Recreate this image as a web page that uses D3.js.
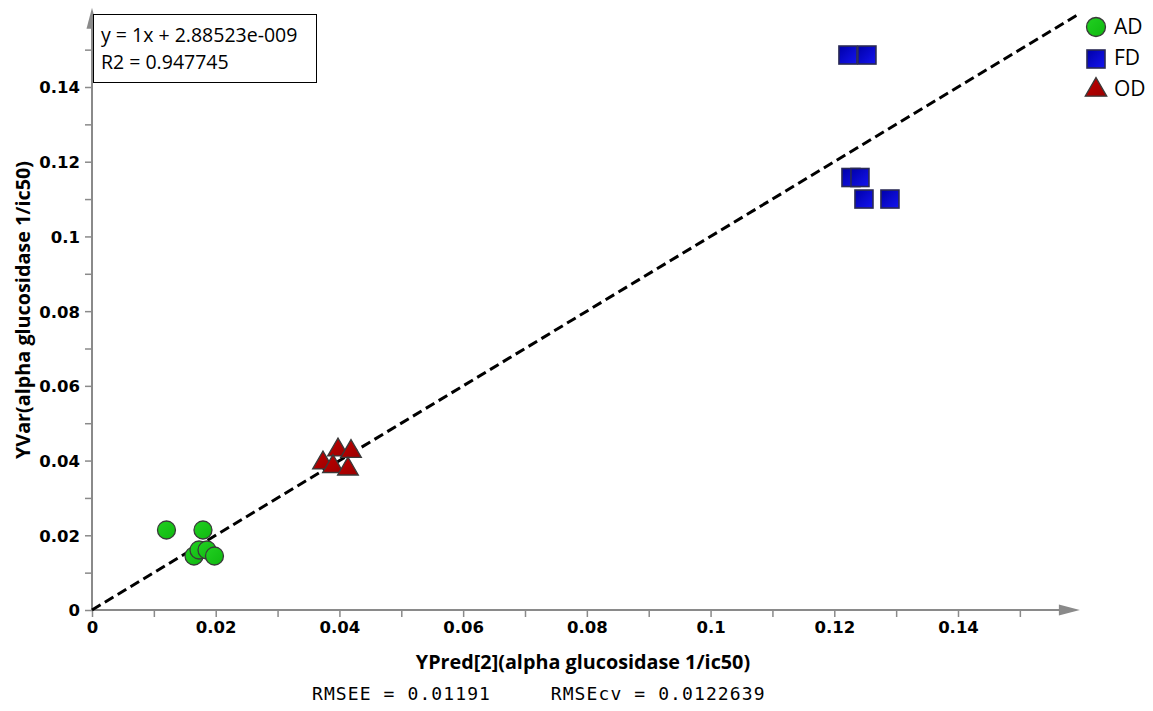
<!DOCTYPE html>
<html>
<head>
<meta charset="utf-8">
<script src="https://cdn.jsdelivr.net/npm/d3@7"></script>
<style>
  html, body { margin: 0; padding: 0; background: #fff; }
  svg { display: block; }
</style>
</head>
<body>
<svg id="chart" width="1153" height="711"></svg>
<script>
// ---- data ----
const seriesNames = ["AD", "FD", "OD"];
const adX = [0.01204, 0.01794, 0.01649, 0.01730, 0.01859, 0.01980];
const adY = [0.02141, 0.02141, 0.01445, 0.01606, 0.01606, 0.01445];
const fdX = [0.12221, 0.12528, 0.12270, 0.12415, 0.12480, 0.12900];
const fdY = [0.14856, 0.14856, 0.11577, 0.11577, 0.11001, 0.11001];
const odX = [0.03977, 0.04187, 0.03734, 0.03896, 0.04138];
const odY = [0.04323, 0.04283, 0.03975, 0.03881, 0.03814];
const xTicks = [0, 0.01, 0.02, 0.03, 0.04, 0.05, 0.06, 0.07, 0.08, 0.09, 0.10, 0.11, 0.12, 0.13, 0.14, 0.15];
const yTicks = [0, 0.01, 0.02, 0.03, 0.04, 0.05, 0.06, 0.07, 0.08, 0.09, 0.10, 0.11, 0.12, 0.13, 0.14, 0.15];
const xLabelTicks = [0, 0.02, 0.04, 0.06, 0.08, 0.10, 0.12, 0.14];
const yLabelTicks = [0, 0.02, 0.04, 0.06, 0.08, 0.10, 0.12, 0.14];
const xAxisMax = 0.1597, yAxisMax = 0.1612;
const lineEnd = 0.1597;
const eqText = ["y = 1x + 2.88523e-009", "R2 = 0.947745"];
const xTitle = "YPred[2](alpha glucosidase 1/ic50)";
const yTitle = "YVar(alpha glucosidase 1/ic50)";
const rmseText = "RMSEE = 0.01191     RMSEcv = 0.0122639";

const svg = d3.select("#chart");
const x = d3.scaleLinear().domain([0, 0.14]).range([92, 958]);
const y = d3.scaleLinear().domain([0, 0.14]).range([610, 87]);
const fmt = d => String(+d.toFixed(2));
const axisColor = "#8a8a8a";

// gradients
const defs = svg.append("defs");
function grad(id, c1, c2) {
  const g = defs.append("linearGradient").attr("id", id).attr("x1", 0).attr("y1", 0).attr("x2", 1).attr("y2", 1);
  g.append("stop").attr("offset", "0%").attr("stop-color", c1);
  g.append("stop").attr("offset", "100%").attr("stop-color", c2);
}
grad("gGreen", "#22d022", "#0fb80f");
grad("gBlue", "#0000a8", "#1414f0");
grad("gRed", "#c00000", "#9a0000");

// x axis
const xAxis = d3.axisBottom(x).tickValues(xTicks).tickSize(7)
  .tickFormat(d => xLabelTicks.some(v => Math.abs(v - d) < 1e-9) ? fmt(d) : "");
const gx = svg.append("g").attr("transform", `translate(0,${y(0)})`).call(xAxis);
gx.select(".domain").remove();
gx.selectAll(".tick line").attr("stroke", axisColor).attr("stroke-width", 1.5);
gx.selectAll(".tick text").attr("font-family", "DejaVu Sans").attr("font-weight", "bold")
  .attr("font-size", 16.5).attr("fill", "#000").attr("dy", "0.95em").attr("y", 7);
svg.append("line").attr("x1", x(0)).attr("x2", x(xAxisMax) - 16).attr("y1", y(0)).attr("y2", y(0))
  .attr("stroke", axisColor).attr("stroke-width", 2);
svg.append("path").attr("d", `M${x(xAxisMax)},${y(0)} L${x(xAxisMax) - 21},${y(0) - 5.5} L${x(xAxisMax) - 21},${y(0) + 5.5} Z`)
  .attr("fill", axisColor);

// y axis
const yAxis = d3.axisLeft(y).tickValues(yTicks).tickSize(7)
  .tickFormat(d => yLabelTicks.some(v => Math.abs(v - d) < 1e-9) ? fmt(d) : "");
const gy = svg.append("g").attr("transform", `translate(${x(0)},0)`).call(yAxis);
gy.select(".domain").remove();
gy.selectAll(".tick line").attr("stroke", axisColor).attr("stroke-width", 1.5);
gy.selectAll(".tick text").attr("font-family", "DejaVu Sans").attr("font-weight", "bold")
  .attr("font-size", 16.5).attr("fill", "#000").attr("x", -12).attr("dy", "0.36em");
svg.append("line").attr("x1", x(0)).attr("x2", x(0)).attr("y1", y(0)).attr("y2", y(yAxisMax) + 16)
  .attr("stroke", axisColor).attr("stroke-width", 2);
svg.append("path").attr("d", `M${x(0)},${y(yAxisMax)} L${x(0) - 5.5},${y(yAxisMax) + 21} L${x(0) + 5.5},${y(yAxisMax) + 21} Z`)
  .attr("fill", axisColor);

// fit line y = x (dashed)
svg.append("line").attr("x1", x(0)).attr("y1", y(0)).attr("x2", x(lineEnd)).attr("y2", y(lineEnd))
  .attr("stroke", "#000").attr("stroke-width", 3).attr("stroke-dasharray", "10,5");

// markers
const ad = adX.map((v, i) => ({x: v, y: adY[i]}));
const fd = fdX.map((v, i) => ({x: v, y: fdY[i]}));
const od = odX.map((v, i) => ({x: v, y: odY[i]}));

svg.append("g").selectAll("circle").data(ad).join("circle")
  .attr("cx", d => x(d.x)).attr("cy", d => y(d.y)).attr("r", 9)
  .attr("fill", "url(#gGreen)").attr("stroke", "#3a3a3a").attr("stroke-width", 1.3);

const sq = 18;
svg.append("g").selectAll("rect").data(fd).join("rect")
  .attr("x", d => x(d.x) - sq / 2).attr("y", d => y(d.y) - sq / 2).attr("width", sq).attr("height", sq)
  .attr("fill", "url(#gBlue)").attr("stroke", "#2a2a55").attr("stroke-width", 1.6);

const tri = d3.symbol().type(d3.symbolTriangle).size(185);
svg.append("g").selectAll("path").data(od).join("path")
  .attr("d", tri).attr("transform", d => `translate(${x(d.x)},${y(d.y) + 1.5})`)
  .attr("fill", "url(#gRed)").attr("stroke", "#3a3a3a").attr("stroke-width", 1.3);

// equation box
svg.append("rect").attr("x", 93.5).attr("y", 14.5).attr("width", 223).attr("height", 68)
  .attr("fill", "#fff").attr("stroke", "#000").attr("stroke-width", 1);
svg.append("g").selectAll("text").data(eqText).join("text")
  .attr("x", 101).attr("y", (d, i) => 42 + i * 27)
  .attr("font-family", "Open Sans").attr("font-size", 19.5).attr("fill", "#000").text(d => d);

// legend
const lg = svg.append("g");
lg.append("circle").attr("cx", 1096).attr("cy", 27).attr("r", 9.5)
  .attr("fill", "url(#gGreen)").attr("stroke", "#3a3a3a").attr("stroke-width", 1.3);
lg.append("rect").attr("x", 1087).attr("y", 50).attr("width", 18).attr("height", 18)
  .attr("fill", "url(#gBlue)").attr("stroke", "#2a2a55").attr("stroke-width", 1.6);
lg.append("path").attr("d", d3.symbol().type(d3.symbolTriangle).size(200)).attr("transform", "translate(1096,90)")
  .attr("fill", "url(#gRed)").attr("stroke", "#3a3a3a").attr("stroke-width", 1.3);
lg.selectAll("text").data(seriesNames).join("text")
  .attr("x", 1114).attr("y", (d, i) => 34 + i * 31)
  .attr("font-family", "Open Sans").attr("font-size", 21).attr("fill", "#000").text(d => d);

// axis titles
svg.append("text").attr("x", 583).attr("y", 669).attr("text-anchor", "middle")
  .attr("font-family", "Open Sans").attr("font-weight", "bold").attr("font-size", 19.8).attr("fill", "#000").text(xTitle);
svg.append("text").attr("transform", "translate(30,310) rotate(-90)").attr("text-anchor", "middle")
  .attr("font-family", "Open Sans").attr("font-weight", "bold").attr("font-size", 19.8).attr("fill", "#000").text(yTitle);

// RMSE
svg.append("text").attr("x", 312).attr("y", 700).attr("xml:space", "preserve").style("white-space", "pre")
  .attr("font-family", "DejaVu Sans Mono").attr("font-size", 18).attr("letter-spacing", 1.1).attr("fill", "#000").text(rmseText);
</script>
</body>
</html>
